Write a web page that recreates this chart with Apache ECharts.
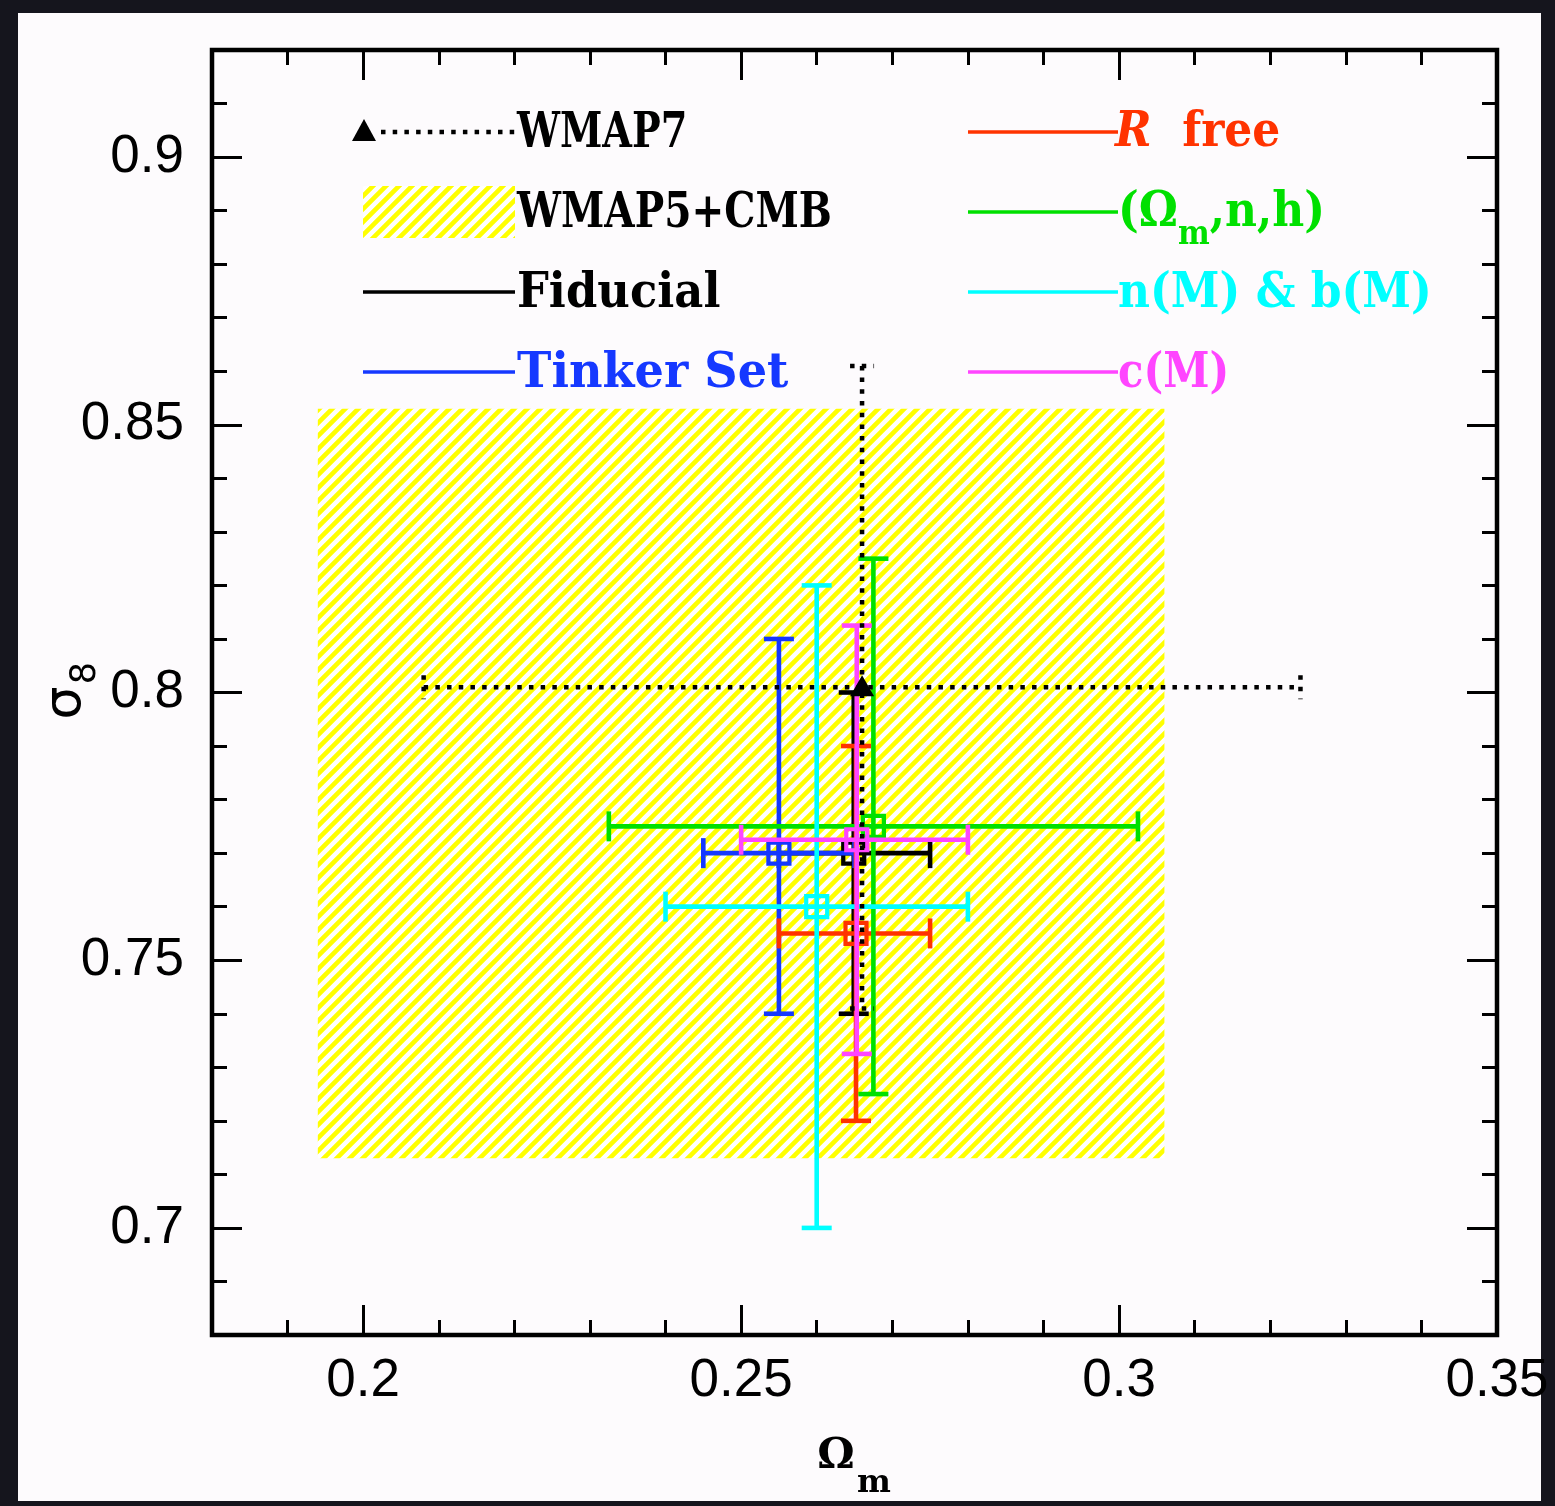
<!DOCTYPE html>
<html>
<head>
<meta charset="utf-8">
<script src="https://cdn.jsdelivr.net/npm/echarts@6/dist/echarts.min.js"></script>
<style>
html,body{margin:0;padding:0;background:#15151d;}
#wrap{position:relative;width:1555px;height:1506px;background:#15151d;overflow:hidden;}
#paper{position:absolute;left:18px;top:13px;width:1523px;height:1488px;background:#fdfbfd;}
#c{position:absolute;left:0;top:0;width:1555px;height:1506px;}
</style>
</head>
<body>
<div id="wrap"><div id="paper"></div><div id="c"></div></div>
<script>
// ---------------- data ----------------
const seriesNames  = ['Fiducial', 'Tinker Set', 'R free', '(Ωm,n,h)', 'n(M) & b(M)', 'c(M)'];
const seriesColors = ['#000000', '#1538ff', '#ff3300', '#00e000', '#00ffff', '#ff45ff'];
const omegaM   = [0.2649, 0.255, 0.2652, 0.2675, 0.260, 0.2653];
const sigma8   = [0.770,  0.770, 0.755,  0.775,  0.760, 0.7725];
const omegaLo  = [0.255,  0.245, 0.255,  0.2325, 0.240, 0.250];
const omegaHi  = [0.275,  0.265, 0.275,  0.3025, 0.280, 0.280];
const sigmaLo  = [0.740,  0.740, 0.720,  0.725,  0.700, 0.7325];
const sigmaHi  = [0.800,  0.810, 0.790,  0.825,  0.820, 0.8125];

const wmap7Name  = 'WMAP7';
const wmap7Omega = [0.208, 0.266, 0.324];   // low, centre, high
const wmap7Sigma = [0.741, 0.801, 0.861];

const wmap5Name       = 'WMAP5+CMB';
const wmap5OmegaRange = [0.194, 0.306];
const wmap5SigmaRange = [0.713, 0.853];

const xRange = [0.18, 0.35];
const yRange = [0.68, 0.92];
const xMajorTicks = [0.2, 0.25, 0.3, 0.35];
const xMinorTicks = [0.19, 0.21, 0.22, 0.23, 0.24, 0.26, 0.27, 0.28, 0.29, 0.31, 0.32, 0.33, 0.34];
const yMajorTicks = [0.7, 0.75, 0.8, 0.85, 0.9];
const yMinorTicks = [0.69, 0.71, 0.72, 0.73, 0.74, 0.76, 0.77, 0.78, 0.79, 0.81, 0.82, 0.83, 0.84, 0.86, 0.87, 0.88, 0.89, 0.91];

// ---------------- styling helpers ----------------
const YELLOW = '#ffff00';
function makeHatch() {
  const p = 13;
  const cv = document.createElement('canvas');
  cv.width = p; cv.height = p;
  const ctx = cv.getContext('2d');
  ctx.fillStyle = '#ffffff';
  ctx.fillRect(0, 0, p, p);
  ctx.strokeStyle = YELLOW;
  ctx.lineWidth = 4.6;
  ctx.lineCap = 'square';
  ctx.beginPath();
  ctx.moveTo(-2, p + 2); ctx.lineTo(p + 2, -2);
  ctx.moveTo(-3, 3); ctx.lineTo(3, -3);
  ctx.moveTo(p - 3, p + 3); ctx.lineTo(p + 3, p - 3);
  ctx.stroke();
  return cv;
}
const hatch = makeHatch();
const hatchFill = {image: hatch, repeat: 'repeat'};

const DOT = [4.5, 7.2];
const LEGFONT = 'DejaVu Serif';
const LEGSIZE = 44;
const LW = 4.6;

function errRender(color) {
  return function (params, api) {
    const c  = api.coord([api.value(0), api.value(1)]);
    const xl = api.coord([api.value(2), api.value(1)])[0];
    const xh = api.coord([api.value(3), api.value(1)])[0];
    const yl = api.coord([api.value(0), api.value(4)])[1];
    const yh = api.coord([api.value(0), api.value(5)])[1];
    const cap = 15, sq = 21;
    const st = {stroke: color, lineWidth: LW, fill: null};
    const ln = (x1, y1, x2, y2) => ({type: 'line', shape: {x1, y1, x2, y2}, style: st});
    return {type: 'group', children: [
      ln(xl, c[1], xh, c[1]),
      ln(c[0], yl, c[0], yh),
      ln(xl, c[1] - cap, xl, c[1] + cap),
      ln(xh, c[1] - cap, xh, c[1] + cap),
      ln(c[0] - cap, yl, c[0] + cap, yl),
      ln(c[0] - cap, yh, c[0] + cap, yh),
      {type: 'rect', shape: {x: c[0] - sq / 2, y: c[1] - sq / 2, width: sq, height: sq},
       style: {stroke: color, lineWidth: 4.2, fill: 'none'}}
    ]};
  };
}

function wmap7Render(params, api) {
  const c  = api.coord([api.value(1), api.value(4)]);
  const xl = api.coord([api.value(0), api.value(4)])[0];
  const xh = api.coord([api.value(2), api.value(4)])[0];
  const yl = api.coord([api.value(1), api.value(3)])[1];
  const yh = api.coord([api.value(1), api.value(5)])[1];
  const cap = 12;
  const st = {stroke: '#000', lineWidth: 4.5, lineDash: DOT, fill: null};
  const ln = (x1, y1, x2, y2) => ({type: 'line', shape: {x1, y1, x2, y2}, style: st});
  return {type: 'group', children: [
    ln(xl, c[1], xh, c[1]),
    ln(c[0], yh, c[0], yl),
    ln(xl, c[1] - cap, xl, c[1] + cap),
    ln(xh, c[1] - cap, xh, c[1] + cap),
    ln(c[0] - cap, yh, c[0] + cap, yh),
    ln(c[0] - cap, yl, c[0] + cap, yl),
    {type: 'polygon', shape: {points: [[c[0], c[1] - 12], [c[0] - 12, c[1] + 9], [c[0] + 12, c[1] + 9]]},
     style: {fill: '#000'}}
  ]};
}

function boxRender(params, api) {
  const p1 = api.coord([api.value(0), api.value(3)]);
  const p2 = api.coord([api.value(1), api.value(2)]);
  return {type: 'rect', shape: {x: p1[0], y: p1[1], width: p2[0] - p1[0], height: p2[1] - p1[1]},
          style: {fill: hatchFill}};
}

// ---------------- axes ----------------
const tickLine = {color: '#000', width: 3};
const labelStyle = {color: '#000', fontFamily: 'Liberation Sans', fontSize: 53};
const fmt = v => String(+(+v).toFixed(3));
function xAx(pos, major) {
  return {
    type: 'value', min: xRange[0], max: xRange[1], position: pos,
    axisLine: {show: false}, splitLine: {show: false},
    axisTick: {show: true, inside: true, length: major ? 30 : 15, lineStyle: tickLine,
               customValues: major ? xMajorTicks : xMinorTicks},
    axisLabel: (major && pos === 'bottom')
      ? Object.assign({show: true, margin: 20, customValues: xMajorTicks, formatter: fmt}, labelStyle)
      : {show: false}
  };
}
function yAx(pos, major) {
  return {
    type: 'value', min: yRange[0], max: yRange[1], position: pos,
    axisLine: {show: false}, splitLine: {show: false},
    axisTick: {show: true, inside: true, length: major ? 30 : 15, lineStyle: tickLine,
               customValues: major ? yMajorTicks : yMinorTicks},
    axisLabel: (major && pos === 'left')
      ? Object.assign({show: true, margin: 28, customValues: yMajorTicks, formatter: fmt}, labelStyle)
      : {show: false}
  };
}

// ---------------- series ----------------
const series = [];
series.push({
  type: 'custom', name: wmap5Name, renderItem: boxRender, z: 1,
  data: [[wmap5OmegaRange[0], wmap5OmegaRange[1], wmap5SigmaRange[0], wmap5SigmaRange[1]]],
  encode: {x: [0, 1], y: [2, 3]}
});
seriesNames.forEach((n, i) => {
  series.push({
    type: 'custom', name: n, renderItem: errRender(seriesColors[i]), z: 3 + i,
    data: [[omegaM[i], sigma8[i], omegaLo[i], omegaHi[i], sigmaLo[i], sigmaHi[i]]],
    encode: {x: [0, 2, 3], y: [1, 4, 5]}
  });
});
series.push({
  type: 'custom', name: wmap7Name, renderItem: wmap7Render, z: 20,
  data: [[wmap7Omega[0], wmap7Omega[1], wmap7Omega[2], wmap7Sigma[0], wmap7Sigma[1], wmap7Sigma[2]]],
  encode: {x: [0, 1, 2], y: [3, 4, 5]}
});

// ---------------- legend (graphic) ----------------
const legRowsY = [132, 212, 292, 372];
const leftLineX = [363, 515], leftTextX = 517;
const rightLineX = [968, 1118], rightTextX = 1118;
const SY = 1.09;
const g = [];
function legText(x, y, text, color, sx) {
  return {
    type: 'text', x: x, y: y + 3, z: 50, scaleX: sx || 1, scaleY: SY,
    style: {text: text, fill: color, font: 'bold ' + LEGSIZE + 'px "' + LEGFONT + '"',
            align: 'left', verticalAlign: 'middle'}
  };
}
// WMAP7
g.push({type: 'polygon', z: 50, shape: {points: [[364, legRowsY[0] - 13], [352, legRowsY[0] + 9], [376, legRowsY[0] + 9]]}, style: {fill: '#000'}});
g.push({type: 'line', z: 50, shape: {x1: 381, y1: legRowsY[0], x2: 515, y2: legRowsY[0]}, style: {stroke: '#000', lineWidth: 4.5, lineDash: DOT}});
g.push(legText(leftTextX, legRowsY[0], wmap7Name, '#000', 0.87));
// WMAP5+CMB
g.push({type: 'rect', z: 50, shape: {x: leftLineX[0], y: legRowsY[1] - 26, width: leftLineX[1] - leftLineX[0], height: 52}, style: {fill: hatchFill}});
g.push(legText(leftTextX, legRowsY[1], wmap5Name, '#000', 0.89));
// Fiducial, Tinker
[0, 1].forEach((k, j) => {
  g.push({type: 'line', z: 50, shape: {x1: leftLineX[0], y1: legRowsY[2 + j], x2: leftLineX[1], y2: legRowsY[2 + j]}, style: {stroke: seriesColors[k], lineWidth: 3.3}});
  g.push(legText(leftTextX, legRowsY[2 + j], seriesNames[k], seriesColors[k], k === 1 ? 1.05 : 1.02));
});
// right column
[2, 3, 4, 5].forEach((k, j) => {
  g.push({type: 'line', z: 50, shape: {x1: rightLineX[0], y1: legRowsY[j], x2: rightLineX[1], y2: legRowsY[j]}, style: {stroke: seriesColors[k], lineWidth: 3.3}});
});
const mainTok = {fontFamily: LEGFONT, fontWeight: 'bold', fontSize: LEGSIZE, lineHeight: 46, verticalAlign: 'top'};
// R free
g.push({type: 'text', z: 50, x: rightTextX - 3, y: legRowsY[0] - 22, scaleY: SY, style: {
  text: '{i|R}{a|  free}', fill: seriesColors[2], align: 'left', verticalAlign: 'top',
  rich: {i: Object.assign({}, mainTok, {fontFamily: 'DejaVu Serif', fontStyle: 'italic', fontWeight: 'bold', fill: seriesColors[2]}),
         a: Object.assign({}, mainTok, {fill: seriesColors[2]})}
}});
// (Ωm,n,h)
g.push({type: 'text', z: 50, x: rightTextX, y: legRowsY[1] - 22, scaleY: SY, style: {
  text: '{a|(Ω}{s|m}{a|,n,h)}', fill: seriesColors[3], align: 'left', verticalAlign: 'top',
  rich: {a: Object.assign({}, mainTok, {fill: seriesColors[3]}),
         s: {fontFamily: LEGFONT, fontWeight: 'bold', fontSize: 30, lineHeight: 30, padding: [27, 0, 0, 0], verticalAlign: 'top', fill: seriesColors[3]}}
}});
g.push(legText(rightTextX, legRowsY[2], seriesNames[4], seriesColors[4]));
g.push(legText(rightTextX, legRowsY[3], seriesNames[5], seriesColors[5], 0.95));

// axis names
g.push({type: 'text', z: 50, x: 836, y: 1457, style: {text: 'Ω', fill: '#000', font: 'bold 42px "DejaVu Serif"', align: 'center', verticalAlign: 'middle'}});
g.push({type: 'text', z: 50, x: 874, y: 1484, style: {text: 'm', fill: '#000', font: 'bold 32px "DejaVu Serif"', align: 'center', verticalAlign: 'middle'}});
g.push({type: 'text', z: 50, x: 66, y: 703, rotation: Math.PI / 2, style: {text: 'σ', fill: '#000', font: '52px "DejaVu Sans"', align: 'center', verticalAlign: 'middle'}});
g.push({type: 'text', z: 50, x: 86, y: 673, rotation: Math.PI / 2, style: {text: '8', fill: '#000', font: '35px "DejaVu Sans"', align: 'center', verticalAlign: 'middle'}});

// ---------------- chart ----------------
const chart = echarts.init(document.getElementById('c'), null, {renderer: 'canvas'});
chart.setOption({
  backgroundColor: 'transparent',
  animation: false,
  grid: {left: 212, top: 50, width: 1285, height: 1285, show: true, borderColor: '#000', borderWidth: 4.5, backgroundColor: 'transparent', containLabel: false},
  xAxis: [xAx('bottom', true), xAx('bottom', false), xAx('top', true), xAx('top', false)],
  yAxis: [yAx('left', true), yAx('left', false), yAx('right', true), yAx('right', false)],
  series: series,
  graphic: {elements: g}
});
</script>
</body>
</html>
